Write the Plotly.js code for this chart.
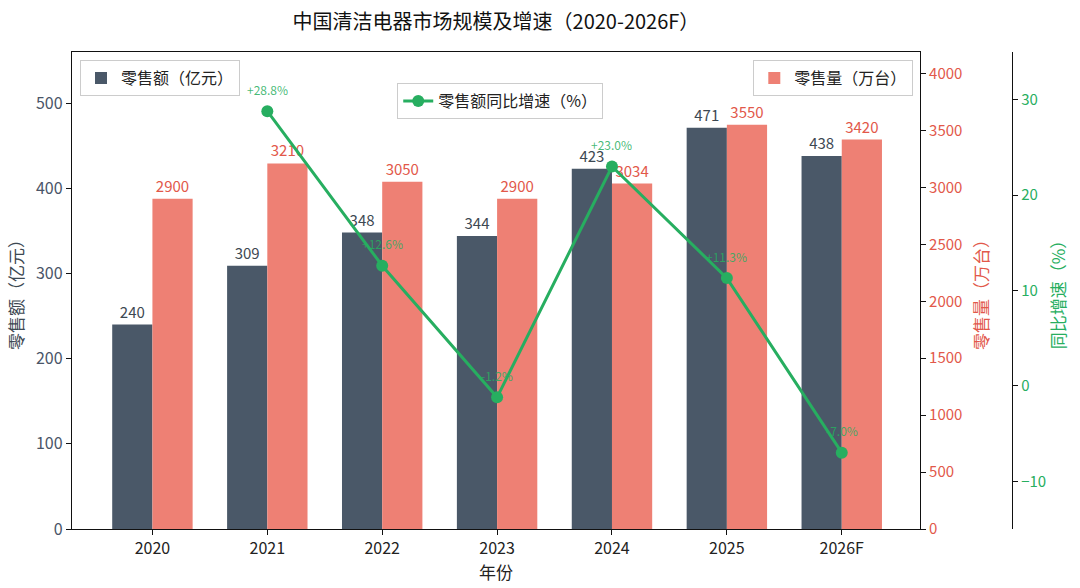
<!DOCTYPE html>
<html>
<head>
<meta charset="utf-8">
<script src="https://cdn.plot.ly/plotly-3.0.1.min.js"></script>
<style>
  html, body { margin: 0; padding: 0; background: #fff; }
  #plot { width: 1080px; height: 588px; }
</style>
</head>
<body>
<div id="plot"></div>
<script>
// chart data
const years = ['2020', '2021', '2022', '2023', '2024', '2025', '2026F'];
const salesValue = [240, 309, 348, 344, 423, 471, 438];      // 零售额（亿元）
const salesVolume = [2900, 3210, 3050, 2900, 3034, 3550, 3420]; // 零售量（万台）
const growth = [null, 28.8, 12.6, -1.2, 23.0, 11.3, -7.0];   // 零售额同比增速（%）

const darkCol = '#4a5868';
const redCol = '#ee8074';
const redText = '#e2584a';
const greenCol = '#27ae60';
const fontFam = '"Noto Sans CJK SC", "Noto Sans", sans-serif';

function fmtGrowth(v) {
    return (v > 0 ? '+' : '') + v.toFixed(1) + '%';
}

let traces = [
    {
        type: 'bar',
        name: '零售额（亿元）',
        x: years,
        y: salesValue,
        width: 0.35,
        offset: -0.35,
        marker: {color: darkCol},
        text: salesValue.map(String),
        textposition: 'outside',
        textfont: {color: '#3d4852', size: 15},
        cliponaxis: false,
        legend: 'legend',
        yaxis: 'y'
    },
    {
        type: 'bar',
        name: '零售量（万台）',
        x: years,
        y: salesVolume,
        width: 0.35,
        offset: 0,
        marker: {color: redCol},
        text: salesVolume.map(String),
        textposition: 'outside',
        textfont: {color: redText, size: 15},
        cliponaxis: false,
        legend: 'legend3',
        yaxis: 'y2'
    },
    {
        type: 'scatter',
        mode: 'lines+markers',
        name: '零售额同比增速（%）',
        x: years,
        y: growth,
        line: {color: greenCol, width: 3},
        marker: {color: greenCol, size: 12},
        cliponaxis: false,
        legend: 'legend2',
        yaxis: 'y3'
    }
];

// growth labels, placed by category index so '2021' is not read as a number
let annotations = [];
for (let i = 0; i < years.length; i++) {
    if (growth[i] === null) continue;
    annotations.push({
        x: i,
        y: growth[i],
        xref: 'x',
        yref: 'y3',
        text: fmtGrowth(growth[i]),
        showarrow: false,
        yshift: 22,
        font: {color: 'rgba(39,174,96,0.85)', size: 12}
    });
}

const legendBox = {
    bgcolor: 'rgba(255,255,255,0.9)',
    bordercolor: '#cccccc',
    borderwidth: 1,
    font: {size: 16, color: '#222'},
    orientation: 'v',
    tracegroupgap: 0
};

let layout = {
    width: 1080,
    height: 588,
    margin: {l: 72, r: 68, t: 52, b: 59},
    paper_bgcolor: '#ffffff',
    plot_bgcolor: '#ffffff',
    font: {family: fontFam, size: 14, color: '#222'},
    title: {
        text: '中国清洁电器市场规模及增速（2020-2026F）',
        font: {size: 20, color: '#111'},
        x: 0.451,
        xref: 'paper',
        xanchor: 'center',
        y: 0.962,
        yanchor: 'middle'
    },
    xaxis: {
        type: 'category',
        domain: [0, 0.902],
        range: [-0.7, 6.68],
        showline: true,
        linecolor: '#111',
        linewidth: 1.2,
        mirror: true,
        ticks: 'outside',
        ticklen: 5,
        tickcolor: '#111',
        tickfont: {size: 16, color: '#222'},
        title: {text: '年份', font: {size: 17, color: '#222'}, standoff: 3},
        showgrid: false,
        zeroline: false
    },
    yaxis: {
        range: [0, 560],
        dtick: 100,
        showline: true,
        linecolor: '#111',
        linewidth: 1.2,
        ticks: 'outside',
        ticklen: 5,
        tickcolor: '#111',
        tickfont: {size: 16, color: '#4a5568'},
        title: {text: '零售额（亿元）', font: {size: 17, color: '#3d4852'}, standoff: 8},
        showgrid: false,
        zeroline: false
    },
    yaxis2: {
        overlaying: 'y',
        side: 'right',
        anchor: 'x',
        range: [0, 4189],
        dtick: 500,
        showline: true,
        linecolor: '#111',
        linewidth: 1.2,
        ticks: 'outside',
        ticklen: 5,
        tickcolor: '#111',
        tickfont: {size: 15, color: redText},
        title: {text: '零售量（万台）', font: {size: 17, color: redText}, standoff: 14},
        showgrid: false,
        zeroline: false
    },
    yaxis3: {
        overlaying: 'y',
        side: 'right',
        anchor: 'free',
        position: 1,
        range: [-15, 35],
        dtick: 10,
        showline: true,
        linecolor: '#111',
        linewidth: 1.2,
        ticks: 'outside',
        ticklen: 5,
        tickcolor: '#111',
        tickfont: {size: 15, color: greenCol},
        title: {text: '同比增速（%）', font: {size: 17, color: greenCol}, standoff: 8},
        showgrid: false,
        zeroline: false
    },
    legend: Object.assign({}, legendBox, {x: 0.0085, y: 0.983, xanchor: 'left', yanchor: 'top'}),
    legend2: Object.assign({}, legendBox, {x: 0.346, y: 0.935, xanchor: 'left', yanchor: 'top'}),
    legend3: Object.assign({}, legendBox, {x: 0.895, y: 0.983, xanchor: 'right', yanchor: 'top'}),
    annotations: annotations,
    showlegend: true
};

Plotly.newPlot('plot', traces, layout, {displayModeBar: false, staticPlot: true});
</script>
</body>
</html>
